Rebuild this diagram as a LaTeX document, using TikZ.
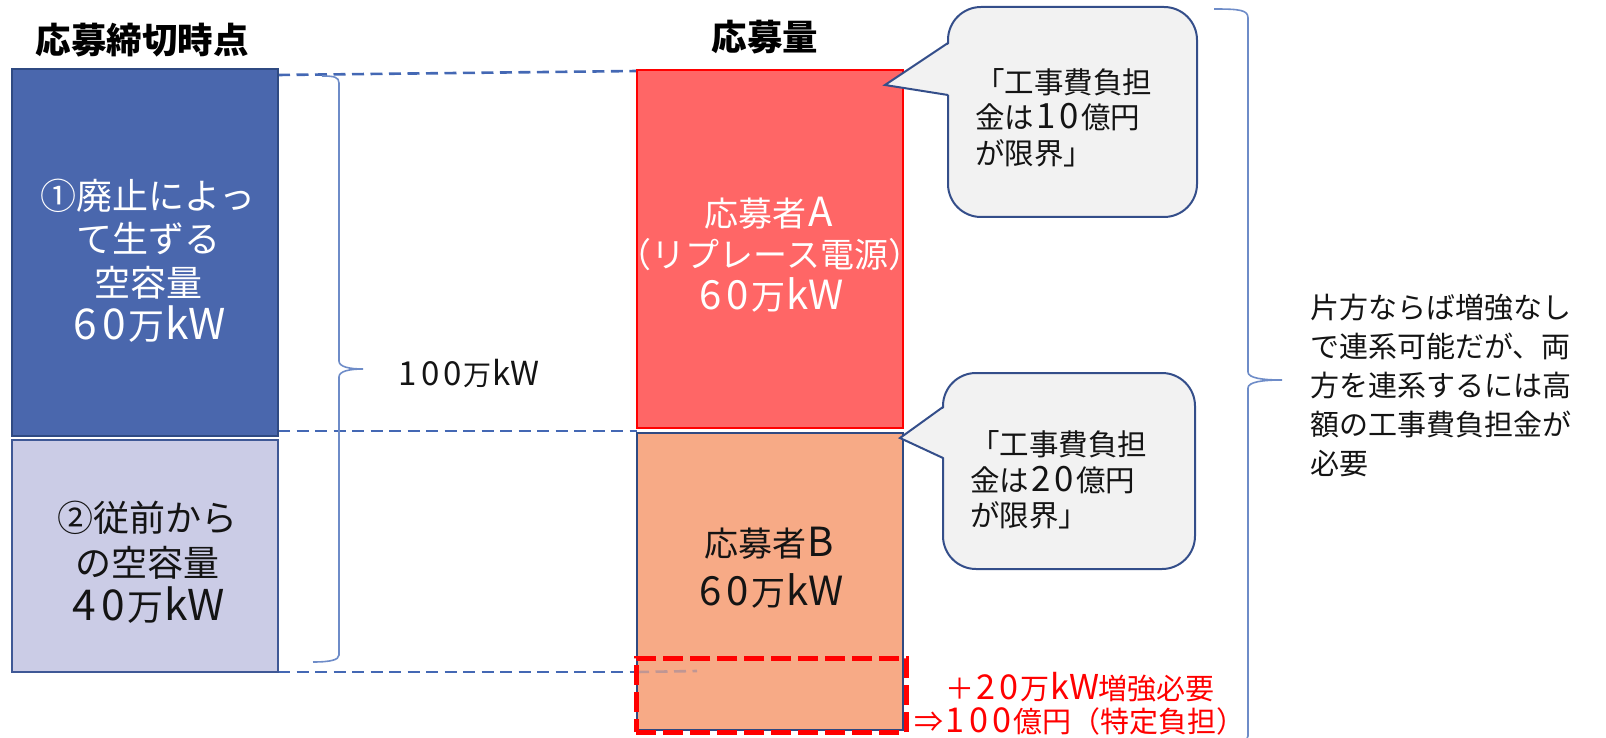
\documentclass[tikz,border=0pt]{standalone}
\usepackage{fontspec}
\usepackage{graphicx}
\setmainfont{Noto Sans CJK JP}
\newcommand\latw[2][0.8em]{\makebox[#1]{\scalebox{1.18}{#2}}}
\newcommand\kwunit{万\latw[0.7em]{k}\latw[1em]{W}}
\definecolor{blueF}{RGB}{74,103,173}
\definecolor{blueB}{RGB}{47,74,130}
\definecolor{lavF}{RGB}{203,204,230}
\definecolor{lavB}{RGB}{63,88,150}
\definecolor{redF}{RGB}{255,102,102}
\definecolor{pureRed}{RGB}{255,0,0}
\definecolor{orF}{RGB}{247,170,134}
\definecolor{callF}{RGB}{242,242,242}
\definecolor{callB}{RGB}{52,78,138}
\definecolor{dashC}{RGB}{68,104,180}
\definecolor{braceC}{RGB}{110,140,200}
\definecolor{txt}{RGB}{20,20,20}
\begin{document}
\begin{tikzpicture}[x=1pt,y=-1pt,
  every node/.style={inner sep=0pt,outer sep=0pt},
  barbox/.style={draw,line width=2pt,shape=rectangle,minimum width=266pt},
  guide/.style={draw=dashC,line width=2.6pt,dash pattern=on 12pt off 6.5pt},
  bracel/.style={draw=braceC,line width=1.6pt},
  callbox/.style={draw=callB,fill=callF,line width=2pt,rounded corners=33pt,shape=rectangle},
  callfill/.style={fill=callF},
  callline/.style={draw=callB,line width=2pt,line join=miter},
  title/.style={font=\fontsize{35.5}{40}\selectfont\bfseries,text=black},
]
\useasboundingbox (0,0) rectangle (1606,738);

% titles
\node[title] (h1) at (142,40) {応募締切時点};
\node[title] (h2) at (765,37) {応募量};

% dashed guide lines (behind boxes)
\coordinate (g1a) at (278,75);  \coordinate (g1b) at (637,71);
\coordinate (g2a) at (278,431); \coordinate (g2b) at (637,431);
\coordinate (g3a) at (278,672); \coordinate (g3b) at (637,672);
\coordinate (g3c) at (697,671);
\draw[guide] (g1a) -- (g1b);
\draw[guide] (g2a) -- (g2b);
\draw[guide] (g3a) -- (g3b);

% left bars
\node[barbox,draw=blueB,fill=blueF,minimum height=367pt] (b1) at (145,252.5) {};
\node[barbox,draw=lavB,fill=lavF,minimum height=232pt] (b2) at (145,556) {};

% right bars
\node[barbox,draw=pureRed,fill=redF,minimum height=358pt] (bA) at (770,249) {};
\node[barbox,draw=blueB,fill=orF,minimum height=297pt] (bB) at (770,581.5) {};
\draw[guide,opacity=0.3] (g3b) -- (g3c);
\node[draw=pureRed,line width=5pt,dash pattern=on 20pt off 7pt,minimum width=270pt,minimum height=74pt] (rd) at (771,695) {};

% bar texts
\node[font=\fontsize{36}{43.5}\selectfont,align=center,text=white] (t1) at (148,260.5) {①廃止によっ\\て生ずる\\空容量\\\latw{6}\latw{0}\kwunit};
\node[font=\fontsize{36}{44.5}\selectfont,align=center,text=txt] (t2) at (147,562.5) {②従前から\\の空容量\\\latw{4}\latw{0}\kwunit};
\node[font=\fontsize{34}{41.5}\selectfont,align=center,text=white] (tA) at (770,254.5) {応募者\latw[0.85em]{A}\\（リプレース電源）\\\latw{6}\latw{0}\kwunit};
\node[font=\fontsize{34}{49}\selectfont,align=center,text=txt] (tB) at (770,567.5) {応募者\latw[0.85em]{B}\\\latw{6}\latw{0}\kwunit};

% left brace
\coordinate (lb1) at (322,76);
\coordinate (lbt) at (363,369);
\coordinate (lb2) at (313,662);
\draw[bracel] (lb1) .. controls (334,76) and (339,77) .. (339,83) -- (339,361)
  .. controls (339,367) and (350,369) .. (lbt)
  .. controls (350,369) and (339,371) .. (339,377) -- (339,655)
  .. controls (339,660) and (330,662) .. (lb2);
\node[font=\fontsize{28}{34}\selectfont,text=txt] (t100) at (468,373) {\latw{1}\latw{0}\latw{0}\kwunit};

% callout 1
\node[callbox,minimum width=249pt,minimum height=210pt] (c1) at (1072.5,112) {};
\coordinate (p1a) at (948,43); \coordinate (p1t) at (885,85); \coordinate (p1b) at (948,95);
\fill[callfill] ([xshift=2.5pt]p1a) -- (p1t) -- ([xshift=2.5pt]p1b) -- cycle;
\draw[callline] (p1a) -- (p1t) -- (p1b);
\node[anchor=west,align=left,font=\fontsize{29.5}{35.5}\selectfont,text=txt] (tc1) at (975,117.7) {「工事費負担\\金は\latw{1}\latw{0}億円\\が限界」};

% callout 2
\node[callbox,minimum width=252pt,minimum height=196pt] (c2) at (1069,471) {};
\coordinate (p2a) at (943,407); \coordinate (p2t) at (900,438); \coordinate (p2b) at (943,458);
\fill[callfill] ([xshift=2.5pt]p2a) -- (p2t) -- ([xshift=2.5pt]p2b) -- cycle;
\draw[callline] (p2a) -- (p2t) -- (p2b);
\node[anchor=west,align=left,font=\fontsize{29.5}{35.5}\selectfont,text=txt] (tc2) at (970,480) {「工事費負担\\金は\latw{2}\latw{0}億円\\が限界」};

% red note
\node[align=center,font=\fontsize{29}{33}\selectfont,text=pureRed] (tr) at (1080,703.5) {＋\latw{2}\latw{0}\kwunit 増強必要\\⇒\latw{1}\latw{0}\latw{0}億円（特定負担）};

% right brace
\coordinate (rb1) at (1214,9);
\coordinate (rbt) at (1282,380);
\coordinate (rb2) at (1214,745);
\draw[bracel] (rb1) .. controls (1240,9) and (1248,10) .. (1248,18) -- (1248,372)
  .. controls (1248,378) and (1262,380) .. (rbt)
  .. controls (1262,380) and (1248,382) .. (1248,388) -- (1248,736)
  .. controls (1248,742) and (1240,745) .. (rb2);
\node[anchor=west,align=left,font=\fontsize{29}{39}\selectfont,text=txt] (tR) at (1310,385) {片方ならば増強なし\\で連系可能だが、両\\方を連系するには高\\額の工事費負担金が\\必要};
\end{tikzpicture}
\end{document}
